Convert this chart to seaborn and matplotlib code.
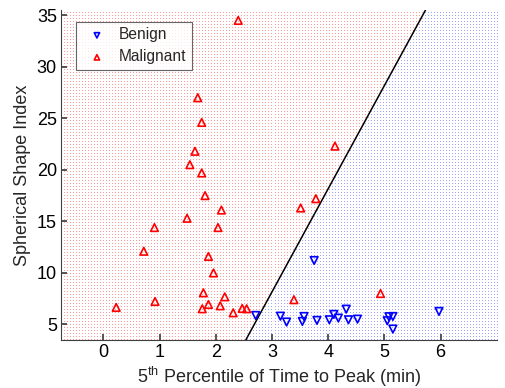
import numpy as np
import pandas as pd
import seaborn as sns
import matplotlib.pyplot as plt

# valores
benign_x = [2.71, 3.15, 3.26, 3.57, 3.54, 3.75, 3.80, 4.02, 4.10, 4.18,
            4.32, 4.36, 4.52, 5.05, 5.08, 5.15, 5.15, 5.97]
benign_y = [5.87, 5.80, 5.23, 5.77, 5.29, 11.2, 5.39, 5.45, 5.97, 5.61,
            6.48, 5.45, 5.51, 5.36, 5.75, 5.77, 4.55, 6.26]

malig_x = [1.81, 2.10, 1.49, 0.91, 2.04, 0.72, 1.87, 1.96, 1.78, 2.16,
           0.92, 1.87, 2.08, 0.23, 1.76, 2.31, 2.47, 2.55, 2.40, 1.68,
           1.75, 1.63, 1.54, 1.75, 3.78, 3.51, 3.39, 4.93, 4.12]
malig_y = [17.5, 16.1, 15.3, 14.4, 14.4, 12.1, 11.6, 10.0, 8.07, 7.68,
           7.23, 6.94, 6.81, 6.65, 6.52, 6.13, 6.55, 6.52, 34.5, 27.0,
           24.6, 21.8, 20.5, 19.7, 17.2, 16.3, 7.4, 8.0, 22.3]

# fronteira de decisão
line_x = [2.535, 5.73]
line_y = [3.5, 35.5]

xlim = (-0.75, 7.0)
ylim = (3.5, 35.5)

sns.set_theme(style="white")
plt.rcParams['font.family'] = ['Liberation Sans', 'DejaVu Sans']
plt.rcParams['mathtext.default'] = 'regular'

fig = plt.figure(figsize=(5.05, 3.88), dpi=100)
ax = fig.add_axes([0.121, 0.124, 0.863, 0.850])

# fundo pontilhado (região de cada classe)
gx, gy = np.meshgrid(np.linspace(xlim[0], xlim[1], 146),
                     np.linspace(ylim[0], ylim[1], 111))
gx, gy = gx.ravel(), gy.ravel()
slope = (line_y[1] - line_y[0]) / (line_x[1] - line_x[0])
bx = line_x[0] + (gy - line_y[0]) / slope
left = gx < bx
ax.plot(gx[left], gy[left], ',', color='#ff9a9a', zorder=0)
ax.plot(gx[~left], gy[~left], ',', color='#a4a4ff', zorder=0)

sns.lineplot(x=line_x, y=line_y, color='black', linewidth=1.1, ax=ax, zorder=3)

sns.scatterplot(x=benign_x, y=benign_y, marker='v', s=30, color='blue',
                facecolor='none', edgecolor='blue', linewidth=1.2,
                label='Benign', ax=ax, zorder=4)
sns.scatterplot(x=malig_x, y=malig_y, marker='^', s=30, color='red',
                facecolor='none', edgecolor='red', linewidth=1.2,
                label='Malignant', ax=ax, zorder=4)

ax.set_xlim(xlim)
ax.set_ylim(ylim)
ax.set_xticks(range(0, 7))
ax.set_yticks(range(5, 36, 5))
ax.tick_params(direction='in', length=4, labelsize=13, colors='#404040',
               labelcolor='black', left=True, bottom=True, pad=3)
for side in ['top', 'right']:
    ax.spines[side].set_visible(False)
for side in ['left', 'bottom']:
    ax.spines[side].set_color('#404040')
    ax.spines[side].set_linewidth(0.8)

ax.set_xlabel('5$^{th}$ Percentile of Time to Peak (min)', fontsize=13, labelpad=3)
ax.set_ylabel('Spherical Shape Index', fontsize=13, labelpad=4)

leg = ax.legend(loc='upper left', bbox_to_anchor=(0.034, 0.964), borderaxespad=0,
                fontsize=11.2, frameon=True, fancybox=False, handletextpad=0.4,
                borderpad=0.35, labelspacing=0.45, markerscale=0.7)
leg.get_frame().set_edgecolor('#404040')
leg.get_frame().set_linewidth(0.8)

fig.savefig('out.png', dpi=100)
